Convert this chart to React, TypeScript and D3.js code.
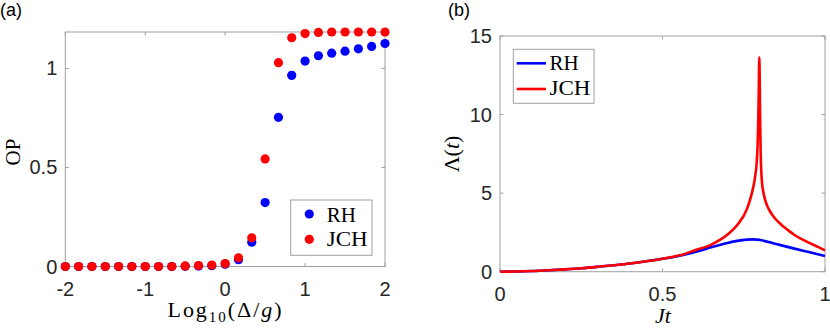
import React from 'react'
import * as d3 from 'd3'

// panel (a): order parameter vs Log10(Delta/g)
const logRatio = [-2, -1.833, -1.667, -1.5, -1.333, -1.167, -1, -0.833, -0.667, -0.5, -0.333, -0.167,
  0, 0.167, 0.333, 0.5, 0.667, 0.833, 1, 1.167, 1.333, 1.5, 1.667, 1.833, 2]
const opRH = [0, 0, 0, 0, 0, 0, 0, 0, 0, 0.001, 0.002, 0.004,
  0.012, 0.034, 0.123, 0.323, 0.753, 0.965, 1.037, 1.064, 1.077, 1.087, 1.099, 1.111, 1.126]
const opJCH = [0, 0, 0, 0, 0, 0, 0, 0, 0, 0.003, 0.005, 0.007,
  0.015, 0.044, 0.145, 0.543, 1.029, 1.155, 1.176, 1.182, 1.184, 1.184, 1.184, 1.184, 1.184]
const ticksA_x = [-2, -1, 0, 1, 2]
const ticksA_y = [0, 0.5, 1]

// panel (b): Lambda(t) vs Jt
const jtRH = [0, 0.05, 0.1, 0.15, 0.2, 0.25, 0.3, 0.35, 0.4, 0.45, 0.5, 0.55, 0.6, 0.65, 0.7,
  0.73, 0.76, 0.78, 0.8, 0.85, 0.9, 0.95, 1]
const lamRH = [0, 0.01, 0.04, 0.09, 0.15, 0.22, 0.31, 0.41, 0.52, 0.66, 0.82, 1.0, 1.25, 1.55, 1.83,
  1.96, 2.04, 2.06, 2.02, 1.76, 1.5, 1.25, 1.0]
const jtJCH = [0, 0.05, 0.1, 0.15, 0.2, 0.25, 0.3, 0.35, 0.4, 0.45, 0.5, 0.55, 0.6, 0.65, 0.7,
  0.73, 0.76, 0.775, 0.785, 0.79, 0.794, 0.796, 0.798, 0.8, 0.802, 0.806, 0.811, 0.821,
  0.832, 0.842, 0.857, 0.873, 0.89, 0.904, 0.93, 0.955, 0.98, 1]
const lamJCH = [0, 0.01, 0.04, 0.09, 0.15, 0.22, 0.31, 0.41, 0.52, 0.66, 0.83, 1.03, 1.36, 1.72, 2.36,
  2.97, 4.0, 5.0, 6.05, 7.0, 9.0, 11.2, 13.65, 10.5, 7.6, 5.7, 4.99, 4.25,
  3.8, 3.5, 3.15, 2.86, 2.58, 2.37, 2.06, 1.8, 1.56, 1.36]
const ticksB_x = [0, 0.5, 1]
const ticksB_y = [0, 5, 10, 15]

const BLUE = '#0000ff'
const RED = '#ff0000'
const AXIS = '#a0a0a0'
const LABEL = '#262626'
const SANS = '"Liberation Sans", Arial, Helvetica, sans-serif'
const SERIF = '"Liberation Serif", "Times New Roman", serif'
const TICK = 3.5

function Frame ({x, y, xt, yt, fmtX, fmtY}: any) {
  const [x0, x1] = x.range()
  const [y0, y1] = y.range()
  return (
    <g>
      <rect x={x0} y={y1} width={x1 - x0} height={y0 - y1} fill='none' stroke={AXIS} strokeWidth={1} />
      {xt.map((t: number) => (
        <g key={'x' + t}>
          <line x1={x(t)} x2={x(t)} y1={y0} y2={y0 - TICK} stroke={AXIS} />
          <line x1={x(t)} x2={x(t)} y1={y1} y2={y1 + TICK} stroke={AXIS} />
          <text x={x(t)} y={y0 + 29} textAnchor='middle' fontFamily={SANS} fontSize={20} fill={LABEL}>{fmtX(t)}</text>
        </g>
      ))}
      {yt.map((t: number) => (
        <g key={'y' + t}>
          <line x1={x0} x2={x0 + TICK} y1={y(t)} y2={y(t)} stroke={AXIS} />
          <line x1={x1} x2={x1 - TICK} y1={y(t)} y2={y(t)} stroke={AXIS} />
          <text x={x0 - 8} y={y(t) + 7} textAnchor='end' fontFamily={SANS} fontSize={20} fill={LABEL}>{fmtY(t)}</text>
        </g>
      ))}
    </g>
  )
}

const fmt = (t: number) => (t < 0 ? '-' + Math.abs(t) : String(t))

export default function App () {
  const xA = d3.scaleLinear().domain([-2, 2]).range([65.3, 385])
  const yA = d3.scaleLinear().domain([0, 1.184]).range([266.5, 32])
  const xB = d3.scaleLinear().domain([0, 1]).range([500, 825])
  const yB = d3.scaleLinear().domain([0, 15]).range([271.7, 36])

  const line = d3.line<[number, number]>()
    .x(d => xB(d[0])).y(d => yB(d[1]))
    .curve(d3.curveMonotoneX)
  const pathRH = line(jtRH.map((t, i) => [t, lamRH[i]]))
  const pathJCH = line(jtJCH.map((t, i) => [t, lamJCH[i]]))

  return (
    <svg width={830} height={332} style={{position: 'absolute', left: 0, top: 0, background: '#fff'}}>
      {/* panel (a) */}
      <text x={0} y={16} fontFamily={SANS} fontSize={18} fill='#000'>(a)</text>
      <Frame x={xA} y={yA} xt={ticksA_x} yt={ticksA_y} fmtX={fmt} fmtY={fmt} />
      {logRatio.map((v, i) => <circle key={'b' + i} cx={xA(v)} cy={yA(opRH[i])} r={4.6} fill={BLUE} />)}
      {logRatio.map((v, i) => <circle key={'r' + i} cx={xA(v)} cy={yA(opJCH[i])} r={4.6} fill={RED} />)}
      <rect x={290.7} y={200} width={81.3} height={55.3} fill='#fff' stroke={AXIS} />
      <circle cx={309.3} cy={214} r={4.6} fill={BLUE} />
      <circle cx={309.3} cy={239.3} r={4.6} fill={RED} />
      <text x={326.7} y={221.7} fontFamily={SERIF} fontSize={21} fill='#000'>RH</text>
      <text x={326.7} y={246} fontFamily={SERIF} fontSize={21} fill='#000' textLength={41} lengthAdjust='spacingAndGlyphs'>JCH</text>
      <text transform='translate(19.5,152) rotate(-90)' textAnchor='middle' fontFamily={SERIF} fontSize={21} fill='#000'>OP</text>
      <text x={224.5} y={317} textAnchor='middle' fontFamily={SERIF} fontSize={22} fill='#000' textLength={114} lengthAdjust='spacing'>
        Log<tspan fontSize={15} dy={5}>10</tspan><tspan dy={-5}>(Δ/</tspan><tspan fontStyle='italic'>g</tspan>)
      </text>

      {/* panel (b) */}
      <text x={448} y={16} fontFamily={SANS} fontSize={18} fill='#000'>(b)</text>
      <Frame x={xB} y={yB} xt={ticksB_x} yt={ticksB_y} fmtX={fmt} fmtY={fmt} />
      <path d={pathRH || ''} fill='none' stroke={BLUE} strokeWidth={2.6} strokeLinejoin='round' />
      <path d={pathJCH || ''} fill='none' stroke={RED} strokeWidth={2.6} strokeLinejoin='round' />
      <rect x={513.3} y={49.3} width={80.7} height={54} fill='#fff' stroke={AXIS} />
      <line x1={516.7} x2={546} y1={63.3} y2={63.3} stroke={BLUE} strokeWidth={2.6} />
      <line x1={516.7} x2={546} y1={89} y2={89} stroke={RED} strokeWidth={2.6} />
      <text x={549.5} y={70} fontFamily={SERIF} fontSize={21} fill='#000'>RH</text>
      <text x={549.5} y={95} fontFamily={SERIF} fontSize={21} fill='#000' textLength={41} lengthAdjust='spacingAndGlyphs'>JCH</text>
      <text transform='translate(459,154) rotate(-90)' textAnchor='middle' fontFamily={SERIF} fontSize={22} fill='#000'>
        Λ(<tspan fontStyle='italic'>t</tspan>)
      </text>
      <text x={663} y={323} textAnchor='middle' fontFamily={SERIF} fontSize={22} fontStyle='italic' fill='#000'>Jt</text>
    </svg>
  )
}
